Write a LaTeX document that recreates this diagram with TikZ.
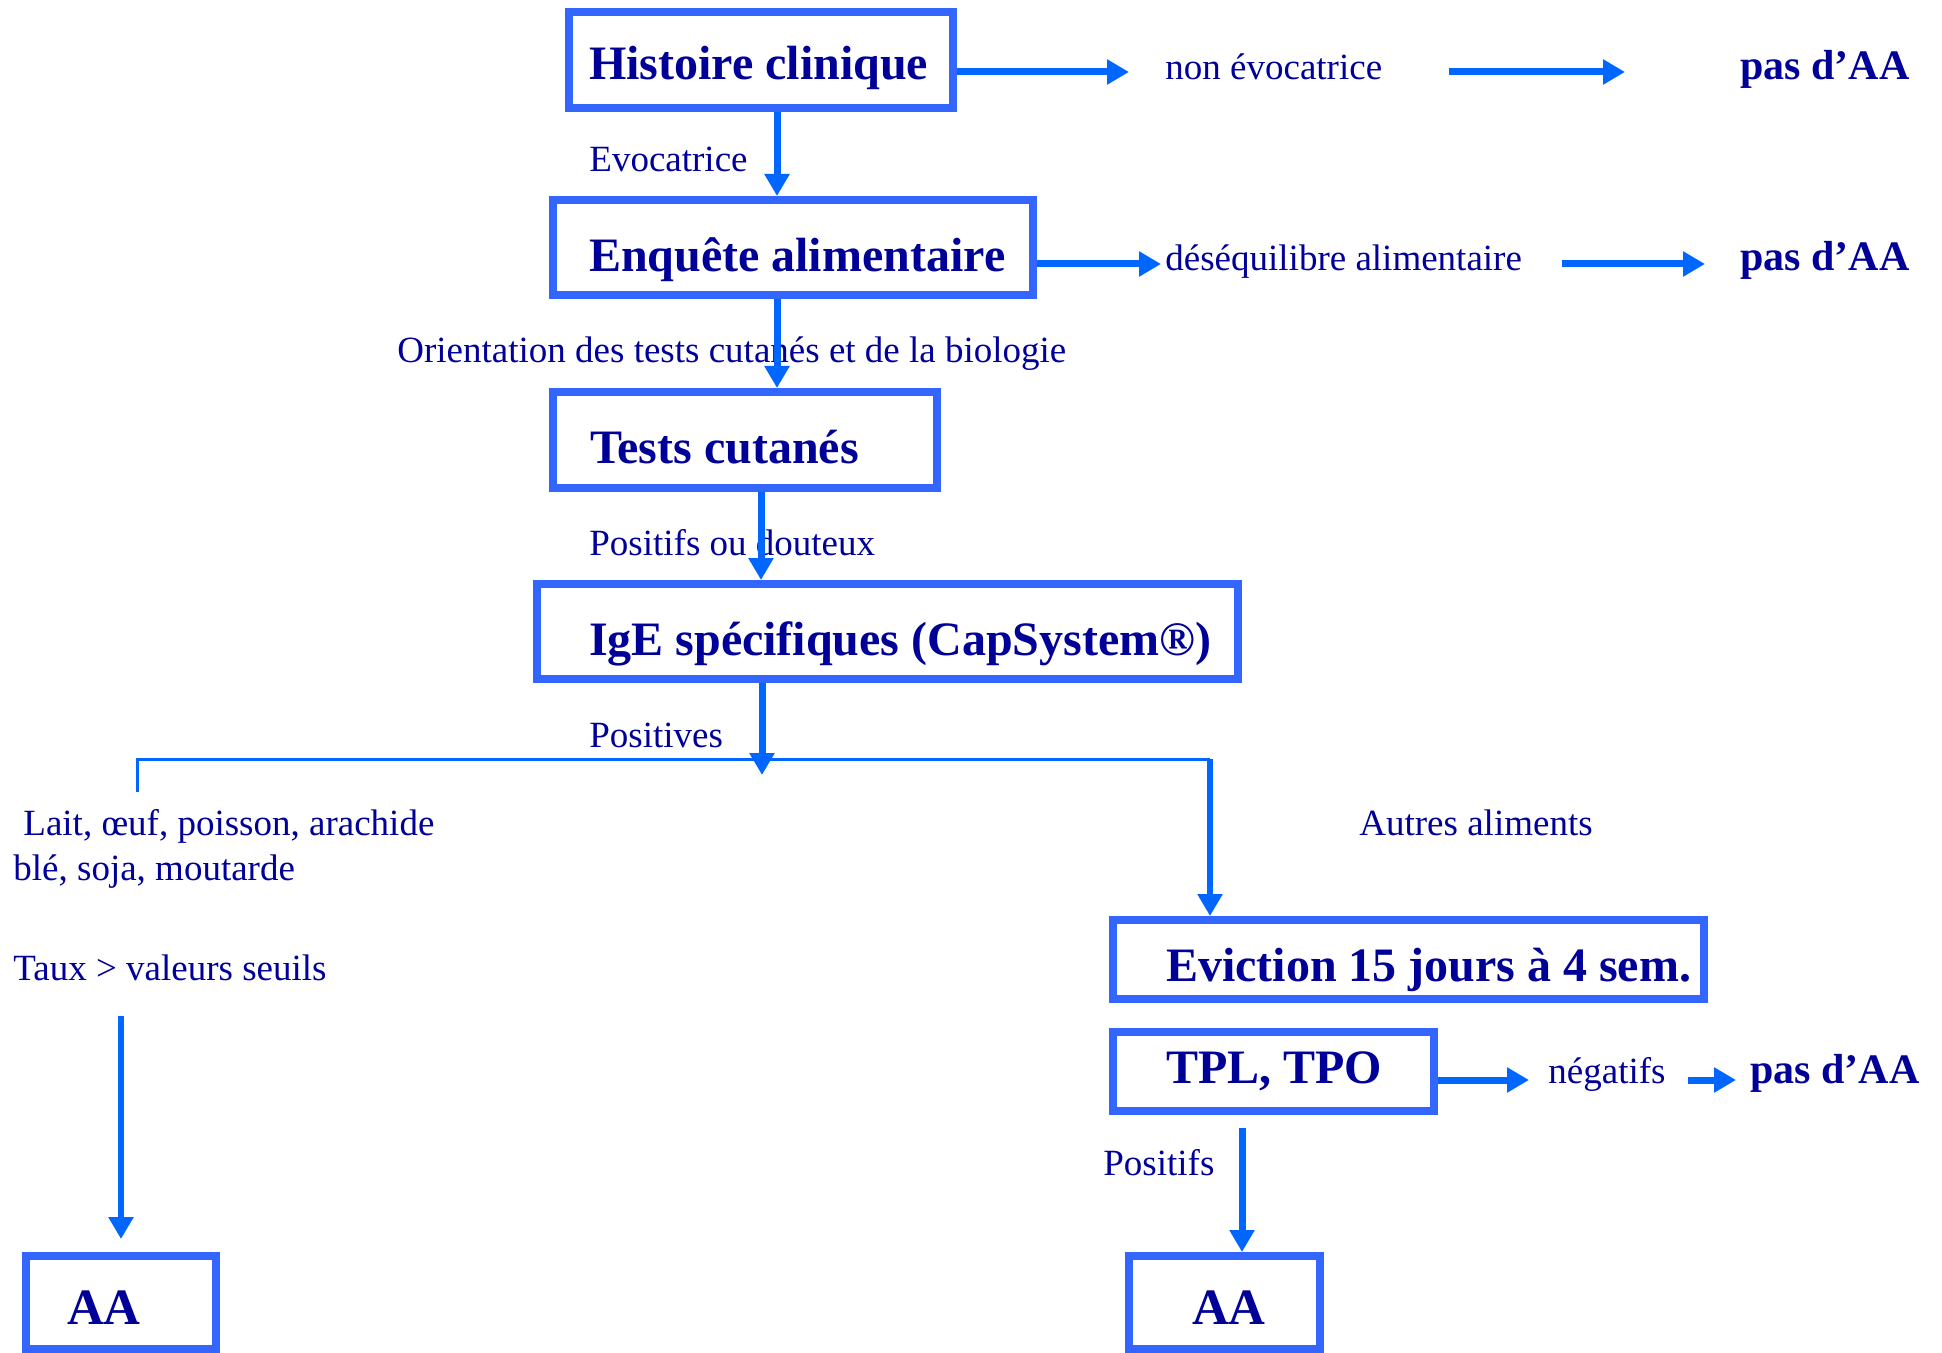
\documentclass[tikz,border=0pt]{standalone}
\usepackage{fontspec}
\setmainfont{Liberation Serif}
\usetikzlibrary{arrows.meta}
\definecolor{boxblue}{HTML}{3366FF}
\definecolor{arrowblue}{HTML}{0066FF}
\definecolor{navy}{HTML}{000099}
% left-aligned box content of a fixed width, with a left indent
\newcommand{\boxline}[3]{\makebox[#1][l]{\hspace*{#2}#3}}
\begin{document}
% one unit = one pixel of a 1942 x 1353 canvas, y pointing down
\begin{tikzpicture}[x=0.5pt, y=-0.5pt,
  box/.style={draw=boxblue, line width=4pt, inner sep=0pt,
    text=navy, font=\fontsize{24}{28}\selectfont\bfseries, text depth=0pt},
  aabox/.style={box, font=\fontsize{25.5}{30}\selectfont\bfseries},
  lbl/.style={inner sep=0pt, anchor=base west, text=navy,
    font=\fontsize{18.5}{22}\selectfont},
  res/.style={lbl, font=\fontsize{21}{25}\selectfont\bfseries},
  arr/.style={draw=arrowblue, line width=3.5pt,
    -{Triangle[length=11pt,width=12pt]}},
  thinline/.style={draw=arrowblue, line width=1.5pt},
]
\useasboundingbox (0,0) rectangle (1942,1353);

% ---- boxes ----
\node[box, minimum height=48pt, text height=20pt]
  (h1) at (761,60) {\boxline{192pt}{10pt}{Histoire clinique}};
\node[box, minimum height=47.5pt, text height=24.5pt]
  (en) at (793,247.5) {\boxline{240pt}{18pt}{Enquête alimentaire}};
\node[box, minimum height=48pt, text height=23pt]
  (tc) at (745,440) {\boxline{192pt}{18.5pt}{Tests cutanés}};
\node[box, minimum height=47.5pt, text height=23.5pt]
  (ige) at (887.5,631.5) {\boxline{350.5pt}{26pt}{IgE spécifiques (CapSystem®)}};
\node[box, minimum height=39.5pt, text height=21.5pt]
  (ev) at (1408.5,959.5) {\boxline{295.5pt}{26.5pt}{Eviction 15 jours à 4 sem.}};
\node[box, minimum height=39.5pt, text height=11.5pt]
  (tpl) at (1273.5,1071.5) {\boxline{160.5pt}{26.5pt}{TPL, TPO}};
\node[aabox, minimum height=46.5pt, text height=21.5pt]
  (aa1) at (121,1302.5) {\boxline{95pt}{20.5pt}{AA}};
\node[aabox, minimum height=46.5pt, text height=21.5pt]
  (aa2) at (1224.5,1302.5) {\boxline{95.5pt}{31.5pt}{AA}};

% ---- labels ----
\node[lbl] (evo) at (589,172) {Evocatrice};
\node[lbl] (ne) at (1165,80) {non évocatrice};
\node[res] (pas1) at (1740,80) {pas d’AA};
\node[lbl] (desq) at (1165,271) {déséquilibre alimentaire};
\node[res] (pas2) at (1740,271) {pas d’AA};
\node[lbl] (orient) at (397,363) {Orientation des tests cutanés et de la biologie};
\node[lbl] (posdout) at (589,555) {Positifs ou douteux};
\node[lbl] (positives) at (589,747) {Positives};
\node[lbl] (lait) at (23,835) {Lait, œuf, poisson, arachide};
\node[lbl] (ble) at (13,880) {blé, soja, moutarde};
\node[lbl] (taux) at (13,980) {Taux > valeurs seuils};
\node[lbl] (autres) at (1359,835) {Autres aliments};
\node[lbl] (neg) at (1548,1083) {négatifs};
\node[res] (pas3) at (1750,1083) {pas d’AA};
\node[lbl] (positifs) at (1103,1175) {Positifs};

% ---- free ends of the branching ----
\coordinate (forktip) at (762,775);
\coordinate (bl) at (137,759);
\coordinate (br) at (1210,759);
\coordinate (lstub) at (137,792);
\coordinate (seuil) at (121,1016);

% ---- main column ----
\draw[arr] ([xshift=8pt]h1.south) -- ([xshift=-8pt]en.north);
\draw[arr] ([xshift=-8pt]en.south) -- ([xshift=16pt]tc.north);
\draw[arr] ([xshift=8pt]tc.south) -- ([xshift=-63.25pt]ige.north);
\draw[arr] ([xshift=-62.75pt]ige.south) -- (forktip);

% ---- side exits ----
\draw[arr, shorten >=18pt] ([yshift=-6pt]h1.east) -- ([yshift=4pt]ne.base west);
\draw[arr, shorten <=33pt, shorten >=57.5pt]
  ([yshift=4pt]ne.base east) -- ([yshift=4pt]pas1.base west);
\draw[arr, shorten >=2pt] ([yshift=-8.25pt]en.east) -- ([yshift=3.5pt]desq.base west);
\draw[arr, shorten <=20pt, shorten >=17.5pt]
  ([yshift=3.5pt]desq.base east) -- ([yshift=3.5pt]pas2.base west);

% ---- branching ----
\draw[thinline] (lstub) -- (bl) -- (br);
\draw[arr, line width=3pt] (br) -- ([xshift=-99.25pt]ev.north);
\draw[arr, line width=3pt, shorten >=6.5pt] (seuil) -- (aa1.north);

% ---- challenge tests ----
\draw[arr, shorten >=9.5pt] ([yshift=-4.25pt]tpl.east) -- ([yshift=1.5pt]neg.base west);
\draw[arr, shorten <=11pt, shorten >=7pt]
  ([yshift=1.5pt]neg.base east) -- ([yshift=1.5pt]pas3.base west);
\draw[arr, shorten <=6.5pt] ([xshift=-15.75pt]tpl.south) -- ([xshift=8.75pt]aa2.north);
\end{tikzpicture}
\end{document}
